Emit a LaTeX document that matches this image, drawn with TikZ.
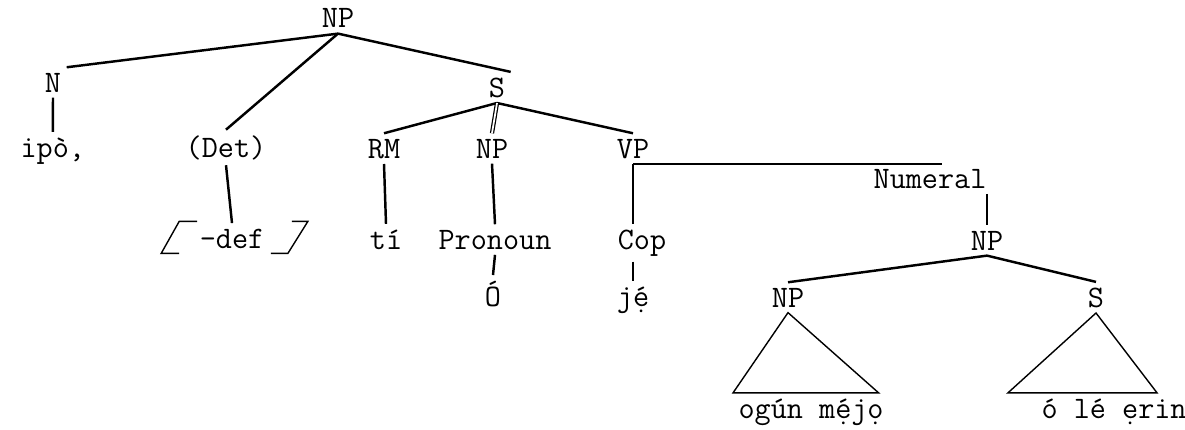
\documentclass[tikz,border=0pt]{standalone}
\usepackage{tikz}
\usetikzlibrary{positioning,calc}

\begin{document}
\begin{tikzpicture}[x=0.02cm,y=-0.02cm,
  font=\ttfamily\fontsize{17.8}{20}\selectfont,
  every node/.style={inner sep=3pt},
  lbl/.style={anchor=base},
  br/.style={line width=1.4pt},
  th/.style={line width=0.8pt}]
\useasboundingbox (0,0) rectangle (1185,429);
% category labels
\foreach \n/\lab/\x/\y in {root/NP/338/28, N/N/53/92, Det/{(Det)}/226/157,
  S/S/497/97, RM/RM/384/158, np/NP/492/158, VP/VP/633/158,
  ti/tí/386/249, pron/Pronoun/495/249, O/Ó/493/306, cop/Cop/642/249,
  je/jẹ́/633/306, num/Numeral/930/188, np2/NP/987/250,
  np3/NP/788/307, s2/S/1096/307}
  \node[lbl] (\n) at (\x,\y) {\lab};
\node[lbl,anchor=base west] (ipo) at (15,157) {ipò,};
\node[lbl] (def) at (232,248) {-def};
\node[lbl,anchor=base west] (ogun) at (733,418) {ogún mẹ́jọ};
\node[lbl,anchor=base west] (ole) at (1036,418) {ó lé ẹrin};
% branches
\foreach \a/\b in {root.south/N.north east, root.south/Det.north,
  root.south/S.north east, N.south/ipo.north, Det.south/def.north,
  S.south/RM.north, S.south/VP.north, RM.south/ti.north,
  np.south/pron.north, pron.south/O.north,
  np2.south/np3.north, np2.south/s2.north}
  \draw[br] (\a) -- (\b);
\draw[line width=0.7pt,double,double distance=1pt] (S.south) -- (np.north);
\draw[br] (VP.south) -- (VP.south |- cop.north);
\draw[br] (je.north |- cop.south) -- (je.north);
\draw[br] (np2.north |- num.south) -- (np2.north);
\draw[th] (VP.south) -- ([xshift=7pt]VP.south -| num.north);
% [-def] brackets
\draw[th] ([shift={(3,-17)}]def.west) -- ([shift={(-15,-17)}]def.west)
  -- ([shift={(-33,15)}]def.west) -- ([shift={(-15,15)}]def.west);
\draw[th] ([shift={(1,15)}]def.east) -- ([shift={(18,15)}]def.east)
  -- ([shift={(38,-17)}]def.east) -- ([shift={(22,-17)}]def.east);
% triangles
\draw[th] (np3.south) -- (ogun.north west) -- ([xshift=-6pt]ogun.north east) -- cycle;
\draw[th] (s2.south) -- ([xshift=-16pt]ole.north west) -- ([xshift=-20pt]ole.north east) -- cycle;
\end{tikzpicture}
\end{document}
